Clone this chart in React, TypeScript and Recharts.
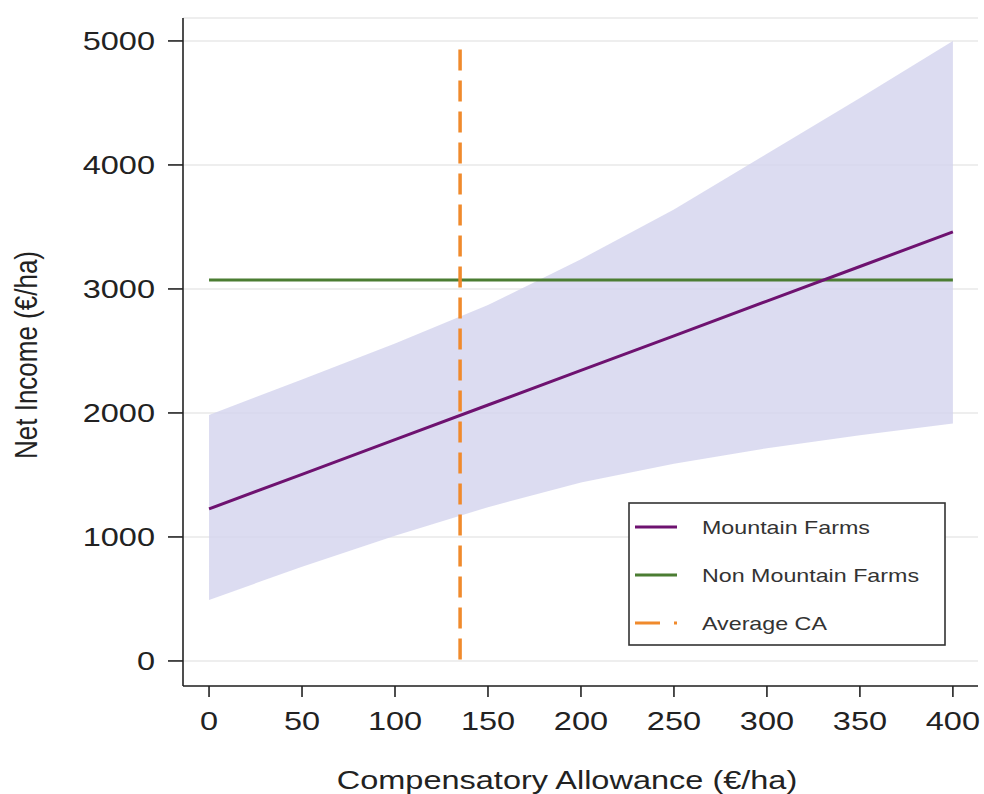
import {ComposedChart, Area, Line, XAxis, YAxis, CartesianGrid, ReferenceLine} from 'recharts';

// compensatory allowance (€/ha) at which values were read
const allowance = [0, 50, 100, 150, 200, 250, 300, 350, 400];
// predicted net income, mountain farms
const mountain = [1226, 1505, 1785, 2064, 2343, 2622, 2902, 3181, 3460];
// confidence band around the mountain prediction
const bandLow = [492, 760, 1010, 1240, 1440, 1590, 1715, 1820, 1915];
const bandHigh = [1984, 2270, 2560, 2870, 3240, 3640, 4090, 4540, 5000];
// non mountain farms, flat mean
const nonMountain = [3073, 3073, 3073, 3073, 3073, 3073, 3073, 3073, 3073];
// average CA and how high its marker goes
const averageCA = 135;
const averageTop = 4930;

const xTicks = [0, 50, 100, 150, 200, 250, 300, 350, 400];
const yTicks = [0, 1000, 2000, 3000, 4000, 5000];

const legendItems = [
    {name: 'Mountain Farms', color: '#6e1270', dash: undefined},
    {name: 'Non Mountain Farms', color: '#4b7d32', dash: undefined},
    {name: 'Average CA', color: '#f08a2c', dash: '25 14'},
];

const data = allowance.map((x, i) => ({
    x,
    mountain: mountain[i],
    band: [bandLow[i], bandHigh[i]],
    nonMountain: nonMountain[i],
}));

const FONT = '"Liberation Sans", Arial, Helvetica, sans-serif';
const STRETCH = 1.3;

const XTick = ({x, y, payload}: any) => (
    <text transform={`translate(${x},${y}) scale(${STRETCH},1)`} textAnchor="middle" dy="0.71em"
          fontSize={25} fill="#222" fontFamily={FONT}>
        {payload.value}
    </text>
);

const YTick = ({x, y, payload}: any) => (
    <text transform={`translate(${x},${y}) scale(${STRETCH},1)`} textAnchor="end" dy="0.355em"
          fontSize={25} fill="#222" fontFamily={FONT}>
        {payload.value}
    </text>
);

const XTitle = () => (
    <text transform={`translate(567,789) scale(${STRETCH},1)`} textAnchor="middle"
          fontSize={25} fill="#222" fontFamily={FONT}>
        Compensatory Allowance (€/ha)
    </text>
);

const YTitle = () => (
    <text transform="translate(37,355) rotate(-90) scale(1,1.18)" textAnchor="middle"
          fontSize={26} fill="#222" fontFamily={FONT}>
        Net Income (€/ha)
    </text>
);

function ChartLegend() {
    return (
        <svg width={318} height={144} style={{position: 'absolute', left: 628, top: 502}}>
            <rect x={1} y={1} width={316} height={142} fill="#fff" stroke="#333" strokeWidth={1.6}/>
            {legendItems.map((item, i) => {
                const cy = 25 + i * 48;
                return (
                    <g key={item.name}>
                        <line x1={7} x2={49} y1={cy} y2={cy} stroke={item.color} strokeWidth={3}
                              strokeDasharray={item.dash}/>
                        <text transform={`translate(74,${cy}) scale(1.25,1)`} dy="0.355em" fontSize={18.6}
                              fill="#333" fontFamily={FONT}>
                            {item.name}
                        </text>
                    </g>
                );
            })}
        </svg>
    );
}

export default function App() {
    return (
        <div style={{position: 'absolute', left: 0, top: 0, width: 984, height: 794, background: '#fff'}}>
            <ComposedChart width={984} height={794} data={data}
                           margin={{top: 18, right: 6, bottom: 0, left: 0}}>
                <CartesianGrid horizontal vertical={false} stroke="#e9e9e9" strokeWidth={1.5}/>
                <XAxis type="number" dataKey="x" domain={[-14, 413.5]} allowDataOverflow ticks={xTicks}
                       height={108} tickSize={11} tickMargin={15} stroke="#222" strokeWidth={1.6}
                       tick={<XTick/>} label={<XTitle/>}/>
                <YAxis type="number" domain={[-202, 5185]} allowDataOverflow ticks={yTicks}
                       width={183} tickSize={15} tickMargin={13} stroke="#222" strokeWidth={1.6}
                       tick={<YTick/>} label={<YTitle/>}/>
                <Area type="linear" dataKey="band" fill="#d3d3ee" fillOpacity={0.8} stroke="none"
                      isAnimationActive={false} activeDot={false}/>
                <Line type="linear" dataKey="nonMountain" stroke="#4b7d32" strokeWidth={3} dot={false}
                      isAnimationActive={false}/>
                <Line type="linear" dataKey="mountain" stroke="#6e1270" strokeWidth={3} dot={false}
                      isAnimationActive={false}/>
                <ReferenceLine segment={[{x: averageCA, y: averageTop}, {x: averageCA, y: 0}]}
                               stroke="#f08a2c" strokeWidth={3.5} strokeDasharray="21 10"/>
            </ComposedChart>
            <ChartLegend/>
        </div>
    );
}
